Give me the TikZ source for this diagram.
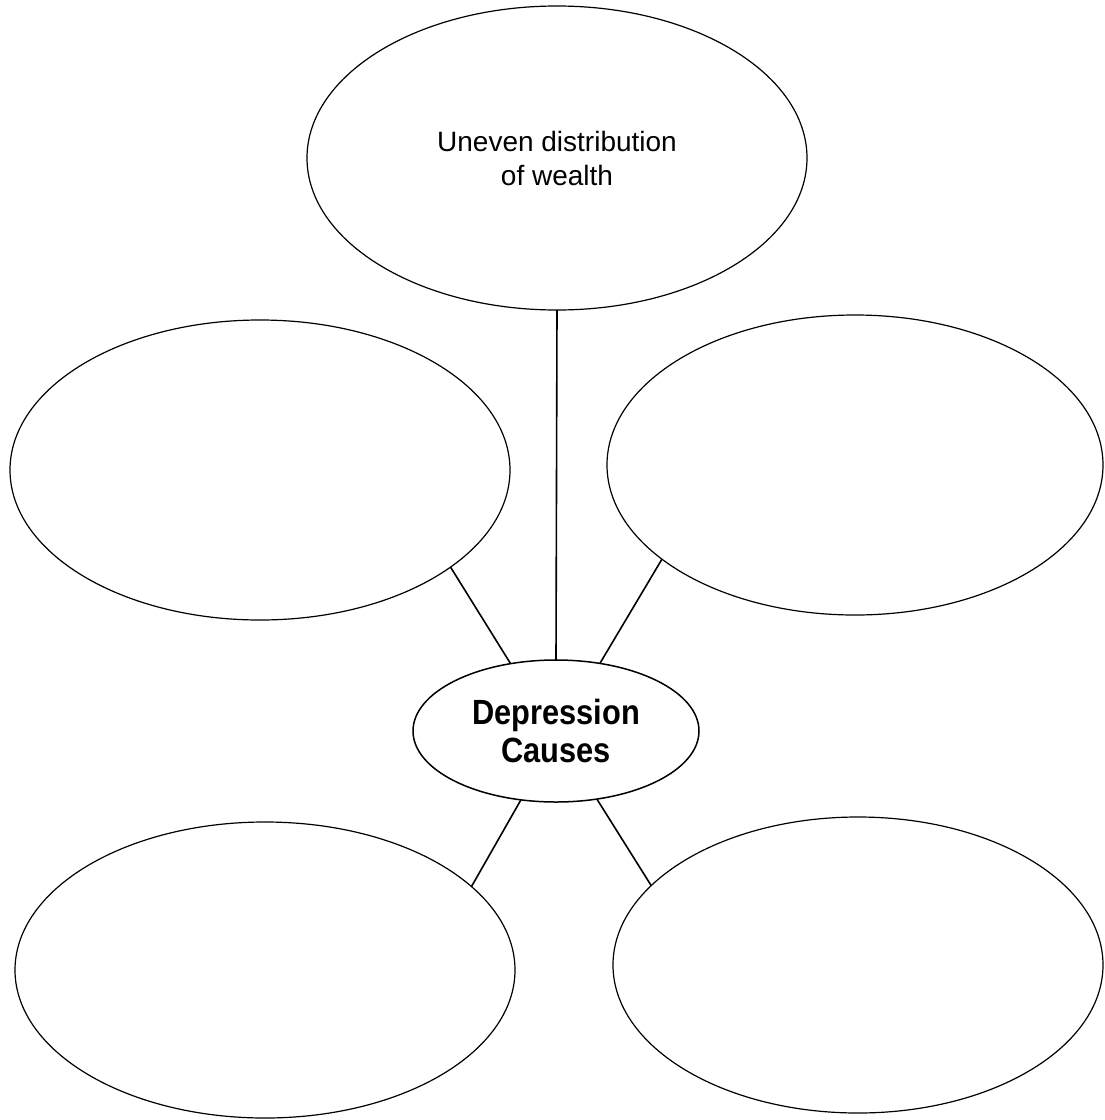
\documentclass[tikz,border=0pt]{standalone}
\usepackage{fontspec}
\setmainfont{Liberation Sans}
\newfontfamily\condfont[FakeStretch=0.88]{Liberation Sans}
\usetikzlibrary{shapes.geometric}
\begin{document}
\begin{tikzpicture}[x=1pt,y=-1pt,
  bubble/.style={draw=black, ellipse, line width=1.2pt, inner sep=0pt, outer sep=0pt, align=center,
    font=\fontsize{28}{34}\selectfont},
  hub/.style={bubble, line width=1.5pt, font=\condfont\bfseries\fontsize{35}{38}\selectfont},
  link/.style={draw=black, line width=1.6pt}]
\useasboundingbox[fill=white] (0,0) rectangle (1104,1120);
\node[bubble, minimum width=500pt, minimum height=304pt] (top) at (557,158) {Uneven distribution\\of wealth};
\node[bubble, minimum width=500pt, minimum height=300pt] (lm) at (260,470) {};
\node[bubble, minimum width=496pt, minimum height=300pt] (rm) at (855,465) {};
\node[bubble, minimum width=500pt, minimum height=296pt] (lb) at (265,970) {};
\node[bubble, minimum width=490pt, minimum height=296pt] (rb) at (858,965) {};
\node[hub, minimum width=286pt, minimum height=142pt] (c) at (556,731) {Depression\\Causes};
\draw[link] (top.-90) -- (c.90);
\draw[link] (lm.-27.2) -- (c.124);
\draw[link] (rm.-154.4) -- (c.57.7);
\draw[link] (c.243.8) -- (lb.22.3);
\draw[link] (c.-59.3) -- (rb.159.1);
\end{tikzpicture}
\end{document}
